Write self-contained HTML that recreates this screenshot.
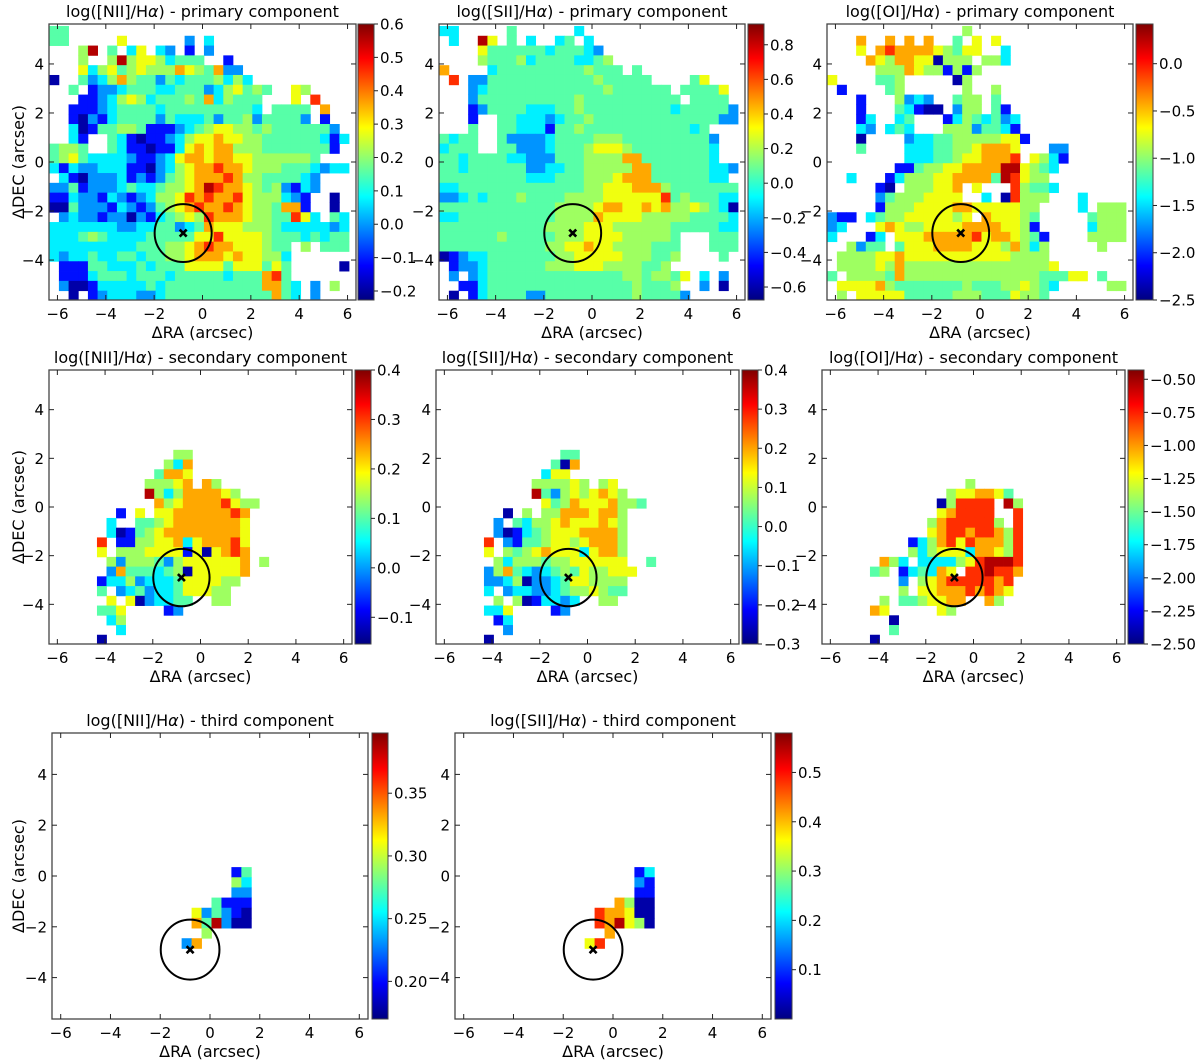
<!DOCTYPE html>
<html><head><meta charset="utf-8"><style>
html,body{margin:0;padding:0;background:#fff}
svg{display:block;font-family:"DejaVu Sans","Liberation Sans",sans-serif}
</style></head><body>
<svg id="fig" width="1200" height="1064" viewBox="0 0 1200 1064" xmlns="http://www.w3.org/2000/svg"></svg>
<script>
// ---- data: each string is a row of spaxels (top = north), digit = colour level 0..9 of the colour scale, '.' = no data
const gridNIIprimary = [
"44","44.....6......2.3","...59.4.36.32.1.2","...5..5956653444..1","...63564565557654722",
"0..423575442434445353","..4.1223444334442356454..65","...1123565344454735444...6.8","..11123444434444444443.4444.7","..1021344442433342445244442.1",
"..3014455411123456655454444442","..31..4310112356676655444444313","4554..431101136767755544444441.","4564333321123677677665555554","3132233311023567787765554443233",
".310222312124567778755444432","2241222343345567987765452132","113221321235568787786555321..0.","004222132124567877876554771..0.",".232212202134565877765544863.43",
"3333333223344234766655543333323","3334543333444446686666544434344","3333333334445567877666544.5.444","3233433443445567776766553",".111443334344466664666464.....0",
".111344434443444443444784",".2001333334344444444447743.2.5.","..0.1233322344444444444743.2"];
const gridSIIprimary = [
"33.....4......3",".3..96.4.3..34.3","....6444444344432","....54445344443345","7....34444444445444.4",
".8.2244444444444544444....46","...234444444444445444444.44446","...2444444444454444444444.4444.","...1244443334454444444443444442","...1..4433323445444444444444422",
"...4..4433314454444444444434","4344..42222344445554444444442","3444..44222344456665444444443","44344443322244455557744444443","4434444442233445555577444444332.",
"444444444333444555677744444433.","3344444444444445566677754444444","2234344454444555566666684544433","4444444444445555677667675565430","3344444444445555766665555544443",
"4444444444455556665555554444433","4444445444445556666555554...444","4444444444455667665555444...444","0123344444445566666555445....4.",".12234444445556665555445",
".2.23444444444444445545546.3.2","..11344444444444444454445..2.0.",".0.13444422444444444544442"];
const gridOIprimary = [
"..............5","...7..7.7.7..4.6.6","...6.78777765466..3","....76577660555.553",".....55576551515",
"6....445.....05",".1....45......5..5","...1...5232..455.4","...1...43100.255.41","...13..34...13543423",
"...32.343...55524431","...0....2334455555661","...4....333445567776...22","........333445667778.6531",".......11455667777996543",
"..3...13555667777498655",".....10.555667.6...85443",".....245556666..3.08555...3",".....15556666776666655....3.555","211.34556666656.766654.....4555",
"23...67655666677776651.....3555","3...13.6667777786776541....5555","..5244.4666777766657535.....5..",".5555667666666666665555",".55556575555555555555556",
"4.5555475555555555555544466.4",".66667544444445444556543.....55",".5.66666444445554446554"];
const gridNIIsecondary = [
"","","","","","","","",".............55","............537",
"...........4776","..........55567.75","..........9535777765","...........75677778655",".......1.6.6677777787",
"......3..445677777776","......301456777777776",".....8.11556673677786",".....6.55566661606787","......525554256666667.5",
"......274443450666667",".....133523334666655",".....4.234233466655","......6.6023344..55",".....446....12",
"......35",".......3",".....0"];
const gridSIIsecondary = [
"","","","","","","","",".............44","............407",
"...........366","..........555565.56","..........9425656765","...........64576667554",".......0.5.557776775",
"......2.435567666765","......20134566677775",".....8.2144566567775",".....6.5456766636775","......53555455666666..4",
".....2574323454655666",".....223502234665555",".....3.2332234556544","......5.5013323..55",".....336....12",
"......13",".......2",".....0"];
const gridOIsecondary = [
"","","","","","","","","","",
"","...............5",".............5667764","............058888.95","............678888..8",
"...........57888885.8","...........6788788758",".........135786877758",".........535666377658","......753.33335689998",
".....45.134376.889887","........2.5678888878","........5.6677787876","......5.4456677..75",".....76.....65",
".......0",".......4",".....0"];
const gridNIIthird = [
"","","","","","","","","","","","","",
"..................14","..................53","..................22","................4111",
"..............624210","..............749200","...............5",".............27"];
const gridSIIthird = [
"","","","","","","","","","","","","",
"..................13","..................21","..................11","................7500",
"..............877600","..............879650","...............7",".............68"];
// colour-scale limits (value at level 0 and level 9)
const limNIIprimary=[-0.227,0.6], limSIIprimary=[-0.675,0.92], limOIprimary=[-2.5,0.42];
const limNIIsecondary=[-0.154,0.4], limSIIsecondary=[-0.3,0.4], limOIsecondary=[-2.5,-0.43];
const limNIIthird=[0.17,0.398], limSIIthird=[0.0,0.58];
// colorbar tick labels
const ticksNIIprimary=[-0.2,-0.1,0.0,0.1,0.2,0.3,0.4,0.5,0.6];
const ticksSIIprimary=[-0.6,-0.4,-0.2,0.0,0.2,0.4,0.6,0.8];
const ticksOIprimary=[-2.5,-2.0,-1.5,-1.0,-0.5,0.0];
const ticksNIIsecondary=[-0.1,0.0,0.1,0.2,0.3,0.4];
const ticksSIIsecondary=[-0.3,-0.2,-0.1,0.0,0.1,0.2,0.3,0.4];
const ticksOIsecondary=[-2.5,-2.25,-2.0,-1.75,-1.5,-1.25,-1.0,-0.75,-0.5];
const ticksNIIthird=[0.20,0.25,0.30,0.35];
const ticksSIIthird=[0.1,0.2,0.3,0.4,0.5];
const xTicks=[-6,-4,-2,0,2,4,6];
const yTicks=[-4,-2,0,2,4];
// fraction of the colour scale represented by each level digit
const levelFractions=[0.04,0.14,0.27,0.36,0.46,0.53,0.61,0.71,0.83,0.95];
const nucleus=[-0.8,-2.9], apertureRadius=1.18;

const NS="http://www.w3.org/2000/svg";
const svg=document.getElementById('fig');
function mk(tag,attrs,parent){const e=document.createElementNS(NS,tag);for(const k in attrs)e.setAttribute(k,attrs[k]);(parent||svg).appendChild(e);return e;}
function jet(t){t=Math.max(0,Math.min(1,t));
 const r=Math.max(0,Math.min(1,1.5-Math.abs(4*t-3))),g=Math.max(0,Math.min(1,1.5-Math.abs(4*t-2))),b=Math.max(0,Math.min(1,1.5-Math.abs(4*t-1)));
 return `rgb(${Math.round(r*255)},${Math.round(g*255)},${Math.round(b*255)})`;}
function fmt(v,dec){return (v<0?'\u2212':'')+Math.abs(v).toFixed(dec);}

const panels=[
 {id:'nii-primary',ion:'[NII]',comp:'primary',grid:gridNIIprimary,lim:limNIIprimary,ticks:ticksNIIprimary,dec:1,box:[49,24,356,300],cb:[358,374],ylab:true},
 {id:'sii-primary',ion:'[SII]',comp:'primary',grid:gridSIIprimary,lim:limSIIprimary,ticks:ticksSIIprimary,dec:1,box:[439,24,745,300],cb:[748,764]},
 {id:'oi-primary',ion:'[OI]',comp:'primary',grid:gridOIprimary,lim:limOIprimary,ticks:ticksOIprimary,dec:1,box:[827,24,1133,300],cb:[1136,1153]},
 {id:'nii-secondary',ion:'[NII]',comp:'secondary',grid:gridNIIsecondary,lim:limNIIsecondary,ticks:ticksNIIsecondary,dec:1,box:[49,370,352,644],cb:[355,371],ylab:true},
 {id:'sii-secondary',ion:'[SII]',comp:'secondary',grid:gridSIIsecondary,lim:limSIIsecondary,ticks:ticksSIIsecondary,dec:1,box:[436,370,739,644],cb:[742,758]},
 {id:'oi-secondary',ion:'[OI]',comp:'secondary',grid:gridOIsecondary,lim:limOIsecondary,ticks:ticksOIsecondary,dec:2,box:[822,370,1125,644],cb:[1128,1144]},
 {id:'nii-third',ion:'[NII]',comp:'third',grid:gridNIIthird,lim:limNIIthird,ticks:ticksNIIthird,dec:2,box:[52,733,368,1019],cb:[372,388],ylab:true},
 {id:'sii-third',ion:'[SII]',comp:'third',grid:gridSIIthird,lim:limSIIthird,ticks:ticksSIIthird,dec:1,box:[455,733,771,1019],cb:[775,792]}
];
const XL=[-6.35,6.35], YL=[-5.63,5.63];

panels.forEach(p=>{
 const [x0,y0,x1,y1]=p.box;
 const sx=v=>x0+(v-XL[0])/(XL[1]-XL[0])*(x1-x0);
 const sy=v=>y1-(v-YL[0])/(YL[1]-YL[0])*(y1-y0);
 const g=mk('g',{});
 
 
 const clipId='clip-'+p.id;
 const cp=mk('clipPath',{id:clipId},g);mk('rect',{x:x0,y:y0,width:x1-x0,height:y1-y0},cp);
 const cells=mk('g',{'clip-path':`url(#${clipId})`},g);
 
 
 p.grid.forEach((row,r)=>{
  for(let c=0;c<Math.min(row.length,32);c++){
   const ch=row[c]; if(ch<'0'||ch>'9') continue;
   const val=p.lim[0]+levelFractions[+ch]*(p.lim[1]-p.lim[0]);
   const t=(val-p.lim[0])/(p.lim[1]-p.lim[0]);
   const xa=-6.34+0.4*c, ya=5.55-0.4*r;
   const rc=mk('rect',{x:sx(xa).toFixed(2),y:sy(ya).toFixed(2),width:(sx(xa+0.4)-sx(xa)+0.4).toFixed(2),height:(sy(ya-0.4)-sy(ya)+0.4).toFixed(2),fill:jet(t)},cells);
   
   
  }
 });
 const ell=mk('ellipse',{cx:sx(nucleus[0]),cy:sy(nucleus[1]),rx:sx(apertureRadius)-sx(0),ry:sy(0)-sy(apertureRadius),fill:'none',stroke:'#000','stroke-width':2},g);
 
 
 const mx=sx(nucleus[0]),my=sy(nucleus[1]);
 const mark=mk('path',{d:`M${mx-3.5},${my-3.5}L${mx+3.5},${my+3.5}M${mx-3.5},${my+3.5}L${mx+3.5},${my-3.5}`,stroke:'#000','stroke-width':2.6},g);
 
 
 const fr=mk('rect',{x:x0,y:y0,width:x1-x0,height:y1-y0,fill:'none',stroke:'#444','stroke-width':1.3},g);
 
 
 xTicks.forEach(v=>{const X=sx(v);
  mk('line',{x1:X,y1:y1,x2:X,y2:y1-5,stroke:'#222','stroke-width':1},g);
  mk('line',{x1:X,y1:y0,x2:X,y2:y0+5,stroke:'#222','stroke-width':1},g);
  const t=mk('text',{x:X,y:y1+19,'text-anchor':'middle','font-size':15,fill:'#000'},g);t.textContent=fmt(v,0);
  
  
 });
 yTicks.forEach(v=>{const Y=sy(v);
  mk('line',{x1:x0,y1:Y,x2:x0+5,y2:Y,stroke:'#222','stroke-width':1},g);
  mk('line',{x1:x1,y1:Y,x2:x1-5,y2:Y,stroke:'#222','stroke-width':1},g);
  const t=mk('text',{x:x0-5,y:Y+5.5,'text-anchor':'end','font-size':15,fill:'#000'},g);t.textContent=fmt(v,0);
  
  
 });
 const tt=mk('text',{x:(x0+x1)/2,y:y0-7,'text-anchor':'middle','font-size':16,fill:'#000'},g);
 
 
 tt.appendChild(document.createTextNode(`log(${p.ion}/H`));
 const al=mk('tspan',{'font-style':'italic'},tt);al.textContent='α';
 tt.appendChild(document.createTextNode(`) - ${p.comp} component`));
 const xl=mk('text',{x:(x0+x1)/2,y:y1+38,'text-anchor':'middle','font-size':16,fill:'#000'},g);xl.textContent='ΔRA (arcsec)';
 
 
 if(p.ylab){const cy=(y0+y1)/2;
  const yl=mk('text',{x:24,y:cy,'text-anchor':'middle','font-size':16,fill:'#000',transform:`rotate(-90 24 ${cy})`},g);yl.textContent='ΔDEC (arcsec)';
  
  
 }
 const [c0,c1]=p.cb;
 const cbg=mk('g',{},g);
 
 
 const gid='grad-'+p.id;
 const lg=mk('linearGradient',{id:gid,x1:0,y1:1,x2:0,y2:0},cbg);
 for(let i=0;i<=16;i++){mk('stop',{offset:i/16,'stop-color':jet(i/16)},lg);}
 mk('rect',{x:c0,y:y0,width:c1-c0,height:y1-y0,fill:`url(#${gid})`,stroke:'#444','stroke-width':1},cbg);
 const cs=v=>y1-(v-p.lim[0])/(p.lim[1]-p.lim[0])*(y1-y0);
 p.ticks.forEach(v=>{const Y=cs(v);
  mk('line',{x1:c1,y1:Y,x2:c1+4,y2:Y,stroke:'#222','stroke-width':1},cbg);
  const t=mk('text',{x:c1+6,y:Y+5.5,'font-size':15,fill:'#000'},cbg);t.textContent=fmt(v,p.dec);
  
  
 });
});
</script>
</body></html>
